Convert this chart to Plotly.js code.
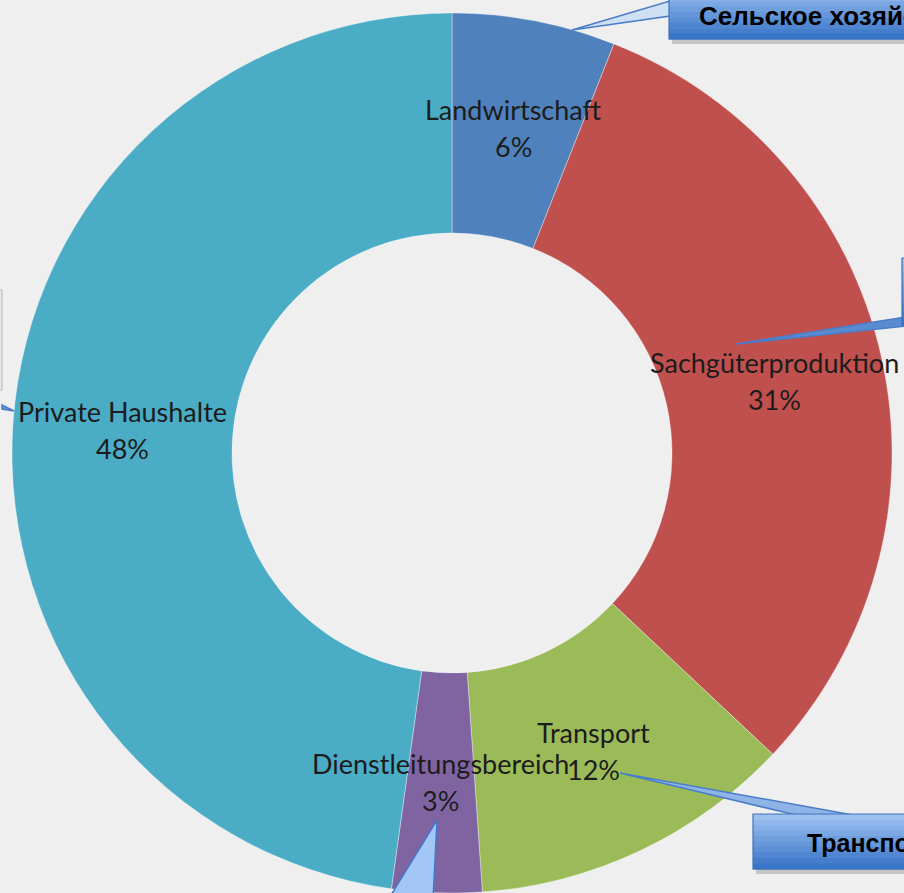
<!DOCTYPE html>
<html>
<head>
<meta charset="utf-8">
<script src="https://cdn.plot.ly/plotly-3.0.1.min.js"></script>
<style>html,body{margin:0;padding:0;background:#efefef;}#chart{width:904px;height:893px;}</style>
</head>
<body>
<div id="chart"></div>
<script>
// ---- data ----
var categories = ["Landwirtschaft", "Sachgüterproduktion", "Transport", "Dienstleitungsbereich", "Private Haushalte"];
var shares = [6.0, 31.0, 11.9, 3.3, 47.8];
var sliceColors = ["#4F81BD", "#C0504D", "#9BBB59", "#8064A2", "#4BACC6"];
var calloutTop = "Сельское хозяйство";
var calloutBottomRight = "Транспорт";

// ---- geometry ----
var W = 904, H = 893;
var R = 440, HOLE = 0.5;
var domY = [0, (2 * R) / H];
var cx = W / 2, cy = H - R; // pixel centre of pie
function px(x) { return x / W; }
function py(y) { return 1 - y / H; }

var trace = {
  type: "pie",
  labels: categories,
  values: shares,
  sort: false,
  direction: "clockwise",
  rotation: 0,
  hole: HOLE,
  textinfo: "none",
  hoverinfo: "label+percent",
  marker: { colors: sliceColors, line: { color: "rgba(255,255,255,0.35)", width: 1 } },
  domain: { x: [0, 1], y: domY },
  showlegend: false
};

// data labels placed at slice mid-angle / mid-radius (computed from the values)
var total = shares.reduce(function (a, b) { return a + b; }, 0);
var annotations = [];
var cum = 0;
var rMid = R * (1 + HOLE) / 2;
var lblFont = { family: "Lato, 'Open Sans', sans-serif", size: 27, color: "#1c1c1c" };
for (var i = 0; i < shares.length; i++) {
  var frac = shares[i] / total;
  var a = (cum + frac / 2) * 2 * Math.PI;
  cum += frac;
  var x = cx + rMid * Math.sin(a);
  var y = cy - rMid * Math.cos(a);
  annotations.push({ xref: "paper", yref: "paper", x: px(x), y: py(y - 19), text: categories[i],
    showarrow: false, xanchor: "center", yanchor: "middle", font: lblFont });
  annotations.push({ xref: "paper", yref: "paper", x: px(x), y: py(y + 18), text: Math.round(frac * 100) + "%",
    showarrow: false, xanchor: "center", yanchor: "middle", font: lblFont });
}

var boldFont = { family: "'Liberation Sans', Arial, sans-serif", size: 26, color: "#000000" };
annotations.push({ xref: "paper", yref: "paper", x: px(697), y: py(16), text: "<b>" + calloutTop + "</b>",
  showarrow: false, xanchor: "left", yanchor: "middle", font: boldFont });
annotations.push({ xref: "paper", yref: "paper", x: px(805), y: py(843), text: "<b>" + calloutBottomRight + "</b>",
  showarrow: false, xanchor: "left", yanchor: "middle", font: { family: boldFont.family, size: 25, color: "#000000" } });

// ---- callout decorations ----
var shapes = [];
function path(pts, fill, line) {
  var d = pts.map(function (p, k) { return (k ? "L" : "M") + px(p[0]) + "," + py(p[1]); }).join(" ") + " Z";
  shapes.push({ type: "path", xref: "paper", yref: "paper", path: d, fillcolor: fill,
    line: { color: line, width: 1.5 }, layer: "above" });
}
function gradBox(x0, y0, x1, y1) {
  shapes.push({ type: "rect", xref: "paper", yref: "paper", x0: px(x0 + 3), x1: px(x1 + 3), y0: py(y1 + 5), y1: py(y1),
    fillcolor: "rgba(120,120,120,0.35)", line: { width: 0 }, layer: "above" });
  var n = 10, top = [156, 192, 240], bot = [58, 118, 200];
  for (var k = 0; k < n; k++) {
    var t = k / (n - 1);
    var c = "rgb(" + top.map(function (v, j) { return Math.round(v + (bot[j] - v) * t); }).join(",") + ")";
    var ya = y0 + (y1 - y0) * k / n, yb = y0 + (y1 - y0) * (k + 1) / n + 0.6;
    shapes.push({ type: "rect", xref: "paper", yref: "paper", x0: px(x0), x1: px(x1), y0: py(yb), y1: py(ya),
      fillcolor: c, line: { width: 0 }, layer: "above" });
  }
  shapes.push({ type: "rect", xref: "paper", yref: "paper", x0: px(x0), x1: px(x1), y0: py(y1), y1: py(y0),
    fillcolor: "rgba(0,0,0,0)", line: { color: "#3f72b8", width: 1.2 }, layer: "above" });
}
// pointers
path([[572, 30], [670, 1], [670, 16]], "#cfe0f5", "#4a7ec8");
path([[736, 344], [906, 317], [906, 326]], "#5a8ad0", "#4a7ec8");
path([[620, 773], [796, 815], [853, 815]], "#8fb4e8", "#4a7ec8");
path([[437, 820], [388, 900], [433, 900]], "#a3c6f6", "#3f79c9");
path([[2, 405], [14, 411], [2, 409]], "#6a96d6", "#4a7ec8");
// boxes
gradBox(669, -15, 930, 39);
gradBox(902, 258, 930, 325);
gradBox(753, 814, 930, 869);
shapes.push({ type: "rect", xref: "paper", yref: "paper", x0: px(-20), x1: px(2), y0: py(390), y1: py(290),
  fillcolor: "#e6e6e6", line: { color: "#b8b8b8", width: 1 }, layer: "above" });

var layout = {
  width: W, height: H,
  margin: { l: 0, r: 0, t: 0, b: 0 },
  paper_bgcolor: "#efefef",
  plot_bgcolor: "#efefef",
  showlegend: false,
  annotations: annotations,
  shapes: shapes
};

Plotly.newPlot("chart", [trace], layout, { displayModeBar: false, staticPlot: true });
</script>
</body>
</html>
